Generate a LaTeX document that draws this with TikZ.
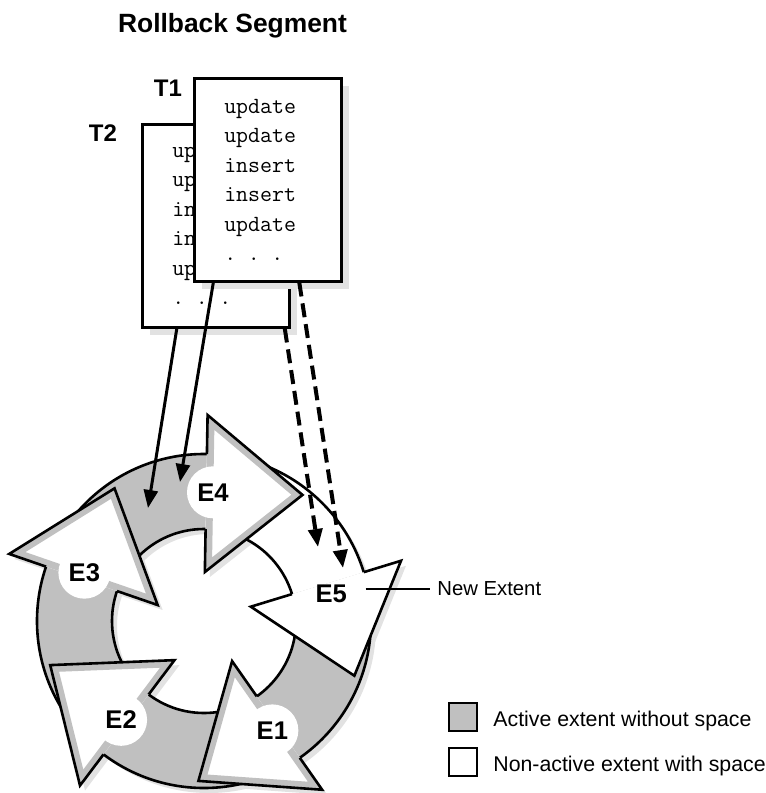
\documentclass[tikz,border=0pt]{standalone}
\usepackage{fontspec}
\setmainfont{Liberation Sans}
\usetikzlibrary{calc}
\usetikzlibrary{arrows.meta}
\usetikzlibrary{shadows}

\definecolor{actgray}{HTML}{C0C0C0}
\definecolor{shadegray}{HTML}{E2E2E2}

\tikzset{
  outline/.style={line width=1.3pt},
  trans/.style={draw, line width=1.3pt, fill=white, anchor=north west, align=left,
    font=\fontsize{11.6}{14.75}\selectfont\ttfamily, text width=43.5pt,
    inner xsep=15pt, inner ysep=0pt, minimum height=101.5pt,
    drop shadow={shadow xshift=4pt, shadow yshift=-4pt, fill=shadegray, opacity=1}},
  tlabel/.style={font=\fontsize{12}{14}\selectfont\bfseries},
  elabel/.style={circle, fill=white, minimum size=26pt, inner sep=0pt,
    font=\fontsize{12.8}{14}\selectfont\bfseries},
  undo/.style={line width=1.5pt, -{Triangle[length=9pt,width=7pt]}},
  undonew/.style={undo, line width=2pt, dash pattern=on 7pt off 3.5pt},
  legendbox/.style={draw, line width=1pt, minimum size=14pt, inner sep=0pt},
  legendtext/.style={anchor=west, inner sep=3.5pt, font=\fontsize{10.65}{12}\selectfont}
}

\begin{document}
\begin{tikzpicture}[x=0.5pt,y=0.5pt]
\useasboundingbox (0,0) rectangle (766,-793);

\node[font=\fontsize{13.2}{15}\selectfont\bfseries] (title) at (232.5,-26) {Rollback Segment};

% shadow under the ring
\begin{scope}[shift={(209,-626)}]
\fill[shadegray, even odd rule] (0,0) circle (167) (0,0) circle (92);
\foreach \a in {-55,-127,161,89,17}
  \fill[shadegray] (\a:49) -- (\a:206) -- (\a-37:160) -- cycle;
\end{scope}

% the ring of extents
\begin{scope}[shift={(204,-621)}]
\fill[actgray, even odd rule] (0,0) circle (167) (0,0) circle (92);
\fill[white] (17:167) arc[start angle=17, end angle=89, radius=167]
  -- (89:92) arc[start angle=89, end angle=17, radius=92] -- cycle;
\draw[outline] (0,0) circle (167) (0,0) circle (92);

% active extents
\foreach \a/\n in {-55/1,-127/2,161/3,89/4}{
  \fill[white] (\a:49) -- (\a:206) -- (\a-37:160) -- cycle;
  \begin{scope}
    \clip (\a:49) -- (\a:206) -- (\a-37:160) -- cycle;
    \draw[actgray, line width=7pt] (\a:49) -- (\a:206) -- (\a-37:160) -- cycle;
  \end{scope}
  \draw[outline] (\a:167) -- (\a:206) -- (\a-37:160) -- (\a:49) -- (\a:92);
  \node[elabel] (e\n) at (\a-3:129) {E\n};
}

% new extent
\fill[white] (17:49) -- (17:206) -- (-20:160) -- cycle;
\draw[outline] (17:167) -- (17:206) -- (-20:160) -- (17:49) -- (17:92);
\node[elabel, fill=none] (e5) at (12:130) {E5};
\end{scope}

% transactions
\node[trans] (t2) at (141,-123) {up\\up\\in\\in\\up\\. . .};
\node[trans] (t1) at (193,-77) {update\\update\\insert\\insert\\update\\. . .};
\node[tlabel] (t1lbl) at ($(t1.north west)+(-25,-11)$) {T1};
\node[tlabel] (t2lbl) at ($(t2.north west)+(-38,-10)$) {T2};

\coordinate (a1) at (148,-508);
\coordinate (a2) at (180,-482);
\coordinate (a3) at (318,-547);
\coordinate (a4) at (343,-568);
\draw[undo] ([xshift=-19.5pt]t2.south) -- (a1);
\draw[undo] ([xshift=-27.25pt]t1.south) -- (a2);
\draw[undonew] ([xshift=34.5pt]t2.south) -- (a3);
\draw[undonew] ([xshift=15.75pt]t1.south) -- (a4);

\node[legendtext, font=\fontsize{10.15}{12}\selectfont] (newext) at (430,-589) {New Extent};
\draw[line width=0.6pt] ([xshift=4pt]newext.west -| e5.east) -- (newext.west);

% legend
\node[legendbox, fill=actgray] (lg1) at (463,-717) {};
\node[legendbox] (lg2) at (463,-761.5) {};
\node[legendtext] (lt1) at ($(lg1.east)+(8,-4)$) {Active extent without space};
\node[legendtext] (lt2) at ($(lg2.east)+(8,-4)$) {Non-active extent with space};
\end{tikzpicture}
\end{document}
